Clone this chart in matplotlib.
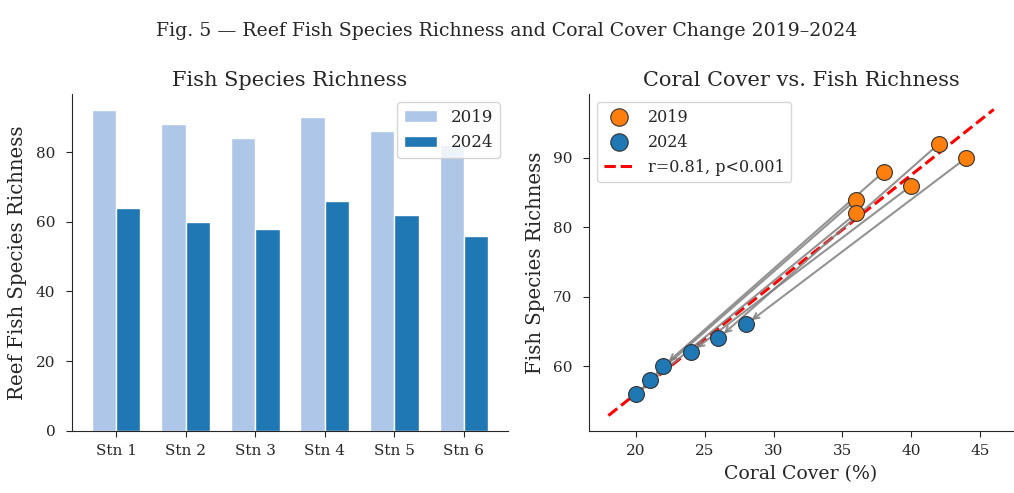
import numpy as np
import matplotlib
matplotlib.use("Agg")
import matplotlib.pyplot as plt
import seaborn as sns

sns.set_style("ticks")
plt.rcParams["font.family"] = ["DejaVu Serif"]
plt.rcParams["xtick.labelsize"] = 11
plt.rcParams["ytick.labelsize"] = 11
plt.rcParams["xtick.major.size"] = 4.5
plt.rcParams["ytick.major.size"] = 4.5
plt.rcParams["xtick.major.pad"] = 5
plt.rcParams["ytick.major.pad"] = 7.5

STATIONS = ["Stn 1", "Stn 2", "Stn 3", "Stn 4", "Stn 5", "Stn 6"]
RICHNESS_2019 = [92, 88, 84, 90, 86, 82]
RICHNESS_2024 = [64, 60, 58, 66, 62, 56]
CORAL_2019 = [42, 38, 36, 44, 40, 36]
CORAL_2024 = [26, 22, 21, 28, 24, 20]
FIT_LABEL = "r=0.81, p<0.001"

fig = plt.figure(figsize=(10.14, 4.93), dpi=100)
ax1 = fig.add_axes([0.071, 0.126, 0.430, 0.683])
ax2 = fig.add_axes([0.581, 0.126, 0.418, 0.683])

# left panel: grouped bars per station
x = np.arange(len(STATIONS))
width = 0.35
ax1.bar(x - width / 2, RICHNESS_2019, width, color="#aec7e8", edgecolor="white", label="2019")
ax1.bar(x + width / 2, RICHNESS_2024, width, color="#1f77b4", edgecolor="white", label="2024")
ax1.set_xticks(x)
ax1.set_xticklabels(STATIONS)
ax1.set_ylabel("Reef Fish Species Richness", fontsize=14.2, labelpad=6)
ax1.set_title("Fish Species Richness", fontsize=15)
ax1.legend(loc="upper right", fontsize=12)

# right panel: coral cover vs richness, with station trajectories
for c0, r0, c1, r1 in zip(CORAL_2019, RICHNESS_2019, CORAL_2024, RICHNESS_2024):
    ax2.annotate("", xy=(c1, r1), xytext=(c0, r0),
                 arrowprops=dict(arrowstyle="->", color="gray", lw=1.5, alpha=0.85,
                                 shrinkA=5, shrinkB=5))
ax2.scatter(CORAL_2019, RICHNESS_2019, s=130, color="#ff7f0e", edgecolor="#333333",
            linewidth=0.8, label="2019", zorder=3)
ax2.scatter(CORAL_2024, RICHNESS_2024, s=130, color="#1f77b4", edgecolor="#333333",
            linewidth=0.8, label="2024", zorder=3)

all_x = np.array(CORAL_2019 + CORAL_2024)
all_y = np.array(RICHNESS_2019 + RICHNESS_2024)
slope, intercept = np.polyfit(all_x, all_y, 1)
xs = np.linspace(18, 46, 100)
ax2.plot(xs, slope * xs + intercept, "--", color="red", lw=2.2, label=FIT_LABEL, zorder=2)

ax2.set_xlabel("Coral Cover (%)", fontsize=13.6, labelpad=5)
ax2.set_ylabel("Fish Species Richness", fontsize=14.2, labelpad=6)
ax2.set_title("Coral Cover vs. Fish Richness", fontsize=15)
ax2.legend(loc="upper left", fontsize=11.5, markerscale=1.1)

sns.despine(fig=fig)
fig.suptitle("Fig. 5 \u2014 Reef Fish Species Richness and Coral Cover Change 2019\u20132024",
             fontsize=13.6, y=0.955)

fig.savefig("out.png", dpi=100)
